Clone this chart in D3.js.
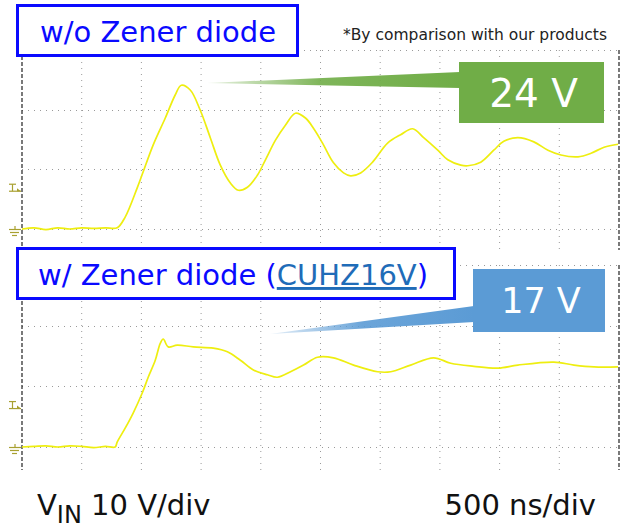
<!DOCTYPE html>
<html>
<head>
<meta charset="utf-8" />
<title>Zener diode surge</title>
<script src="https://d3js.org/d3.v7.min.js"></script>
<style>
body { margin:0; background:#fff; }
text { font-family: "DejaVu Sans", Verdana, sans-serif; }
</style>
</head>
<body>
<div id="chart"></div>
<script>

// time in ns, voltage in V (read from the scope shots)
var timeTicks = [0,500,1000,1500,2000,2500,3000,3500,4000,4500,5000]
var voltTicks = [0,10,20,30]

var withoutZenerT = [0,100,200,300,400,500,600,700,797,864,965,1015,1099,1200,1284,1334,1409,1493,1577,1661,1745,1812,1888,1971,2039,2123,2206,2290,2374,2441,2517,2609,2693,2752,2836,2936,3062,3171,3272,3364,3482,3566,3675,3734,3842,3951,4035,4153,4287,4405,4514,4657,4766,4875,4992]
var withoutZenerV = [0,0.2,-0.1,0.2,0,0.2,0.1,0.2,0.2,2.0,6.9,9.6,14.1,18.6,22.5,24.1,23.3,19.9,15.3,10.7,7.7,6.5,7.0,9.0,11.6,14.9,17.4,19.4,18.6,16.9,14.4,11.1,9.4,8.9,9.4,11.2,14.4,15.8,16.8,15.3,13.2,11.6,10.7,10.6,11.2,13.2,14.7,15.3,14.6,13.2,12.4,12.1,12.7,13.7,14.2]

var withZenerT = [0,100,200,300,400,500,600,700,780,797,864,931,1007,1057,1116,1158,1183,1225,1300,1435,1602,1720,1829,1938,2056,2139,2249,2358,2475,2609,2777,2978,3088,3255,3448,3591,3784,3985,4153,4455,4623,4791,4992]
var withZenerV = [0,0.1,0.2,0,0.2,0.1,-0.1,0.1,0,0.8,3.1,5.6,8.9,11.5,14.3,17.1,17.8,16.5,16.8,16.5,16.3,15.7,14.3,12.7,11.9,11.5,12.4,13.5,14.8,14.7,13.5,12.4,12.4,13.5,14.7,13.8,13.3,13.0,13.5,14.0,13.5,13.2,13.2]

var width = 627, height = 529

var svg = d3.select("#chart").append("svg")
    .attr("width", width)
    .attr("height", height)

var xScale = d3.scaleLinear().domain([0,5000]).range([22,619])

// two scope panels
var panels = [
  {id:"top", zeroY:229, topY:50, bottomY:250, t:withoutZenerT, v:withoutZenerV},
  {id:"bottom", zeroY:447, topY:265, bottomY:470, t:withZenerT, v:withZenerV}
]

panels.forEach(function(p) {

  var yScale = d3.scaleLinear().domain([0,30]).range([p.zeroY, p.topY])
  var g = svg.append("g").attr("id", "panel_" + p.id)

  //dotted grid
  g.selectAll(".vgrid")
    .data(timeTicks.slice(1, -1))
    .enter().append("line")
    .attr("x1", function(d) { return xScale(d) })
    .attr("x2", function(d) { return xScale(d) })
    .attr("y1", p.topY)
    .attr("y2", p.bottomY)
    .attr("stroke", "#9a9a9a")
    .attr("stroke-width", 1)
    .attr("stroke-dasharray", "1,5")

  g.selectAll(".hgrid")
    .data(voltTicks)
    .enter().append("line")
    .attr("x1", xScale(0))
    .attr("x2", xScale(5000))
    .attr("y1", function(d) { return Math.round(yScale(d)) + 0.5 })
    .attr("y2", function(d) { return Math.round(yScale(d)) + 0.5 })
    .attr("stroke", "#9a9a9a")
    .attr("stroke-width", 1)
    .attr("stroke-dasharray", "1,5")

  //dashed frame edges
  g.append("line")
    .attr("x1", xScale(0)).attr("x2", xScale(0))
    .attr("y1", p.topY).attr("y2", p.bottomY)
    .attr("stroke", "#222").attr("stroke-width", 1.2)
    .attr("stroke-dasharray", "4,2")

  g.append("line")
    .attr("x1", xScale(5000)).attr("x2", xScale(5000))
    .attr("y1", p.topY).attr("y2", p.bottomY)
    .attr("stroke", "#222").attr("stroke-width", 1.2)
    .attr("stroke-dasharray", "4,2")

  //trace
  var points = p.t.map(function(d, i) { return [d, p.v[i]] })

  var valueline = d3.line()
    .x(function(d) { return xScale(d[0]) })
    .y(function(d) { return yScale(d[1]) })
    .curve(d3.curveCatmullRom)

  g.append("path")
    .datum(points)
    .attr("d", valueline)
    .attr("fill", "none")
    .attr("stroke", "#eeee10")
    .attr("stroke-width", 1.7)

  //ground marker
  var gy = yScale(0)
  var marker = g.append("g").attr("stroke", "#a8a030").attr("stroke-width", 1.2)
  marker.append("line").attr("x1", 9).attr("x2", 21).attr("y1", gy + 0.5).attr("y2", gy + 0.5)
  marker.append("line").attr("x1", 10).attr("x2", 19).attr("y1", gy + 3.5).attr("y2", gy + 3.5)
  marker.append("line").attr("x1", 12).attr("x2", 17).attr("y1", gy + 6.5).attr("y2", gy + 6.5)
  marker.append("line").attr("x1", 15).attr("x2", 15).attr("y1", gy - 3).attr("y2", gy + 0.5)

  //trigger marker
  var ty = yScale(6.5)
  marker.append("line").attr("x1", 9).attr("x2", 16).attr("y1", ty - 6).attr("y2", ty - 6)
  marker.append("line").attr("x1", 12.5).attr("x2", 12.5).attr("y1", ty - 6).attr("y2", ty + 1)
  marker.append("line").attr("x1", 9).attr("x2", 21).attr("y1", ty + 1).attr("y2", ty + 1)
  marker.append("path").attr("d", "M17," + (ty - 2) + " L21," + (ty + 1) + " L17," + (ty + 1) + "Z")
    .attr("fill", "#a8a030").attr("stroke", "none")
})

//callouts
var defs = svg.append("defs")

function gradient(id, color) {
  var gr = defs.append("linearGradient").attr("id", id)
    .attr("x1", "0%").attr("x2", "100%").attr("y1", "0%").attr("y2", "0%")
  gr.append("stop").attr("offset", "0%").attr("stop-color", color).attr("stop-opacity", 0.15)
  gr.append("stop").attr("offset", "45%").attr("stop-color", color).attr("stop-opacity", 0.9)
  gr.append("stop").attr("offset", "100%").attr("stop-color", color).attr("stop-opacity", 1)
}
gradient("grad_green", "#70ad47")
gradient("grad_blue", "#5b9bd5")

var callouts = [
  {label:"24 V", color:"#70ad47", grad:"grad_green", x:459, y:62, w:145, h:61, tip:[207,83], base:[72,88], size:39},
  {label:"17 V", color:"#5b9bd5", grad:"grad_blue", x:473, y:269, w:132, h:63, tip:[270,334], base:[306,322], size:35}
]

callouts.forEach(function(c) {
  svg.append("path")
    .attr("d", "M" + c.tip[0] + "," + c.tip[1] + " L" + (c.x + 1) + "," + c.base[0] + " L" + (c.x + 1) + "," + c.base[1] + "Z")
    .attr("fill", "url(#" + c.grad + ")")

  svg.append("rect")
    .attr("x", c.x).attr("y", c.y)
    .attr("width", c.w).attr("height", c.h)
    .attr("fill", c.color)

  svg.append("text")
    .text(c.label)
    .attr("x", c.x + c.w / 2 + 2)
    .attr("y", c.y + c.h / 2 + c.size * 0.36)
    .attr("text-anchor", "middle")
    .attr("font-size", c.size)
    .attr("fill", "white")
})

//title boxes
svg.append("rect")
  .attr("x", 17.5).attr("y", 5.5).attr("width", 280).attr("height", 50)
  .attr("fill", "white").attr("stroke", "#0a0aff").attr("stroke-width", 3)

svg.append("text")
  .text("w/o Zener diode")
  .attr("x", 40).attr("y", 42)
  .attr("font-size", 29)
  .attr("fill", "#0a0aff")

svg.append("rect")
  .attr("x", 17.5).attr("y", 248.5).attr("width", 437).attr("height", 50)
  .attr("fill", "white").attr("stroke", "#0a0aff").attr("stroke-width", 3)

var t2 = svg.append("text")
  .attr("x", 38).attr("y", 285)
  .attr("font-size", 29)
  .attr("fill", "#0a0aff")
t2.append("tspan").text("w/ Zener diode (")
t2.append("tspan").text("CUHZ16V").attr("fill", "#1f6cb8").attr("text-decoration", "underline")
t2.append("tspan").text(")")

svg.append("text")
  .text("*By comparison with our products")
  .attr("x", 607).attr("y", 40)
  .attr("text-anchor", "end")
  .attr("font-size", 15.5)
  .attr("fill", "#222")

//scale labels
var vin = svg.append("text")
  .attr("x", 37).attr("y", 515)
  .attr("font-size", 29)
  .attr("fill", "#111")
vin.append("tspan").text("V")
vin.append("tspan").text("IN").attr("font-size", 24).attr("dy", 8)
vin.append("tspan").text(" 10 V/div").attr("dy", -8)

svg.append("text")
  .text("500 ns/div")
  .attr("x", 596).attr("y", 515)
  .attr("text-anchor", "end")
  .attr("font-size", 29)
  .attr("fill", "#111")

</script>
</body>
</html>
